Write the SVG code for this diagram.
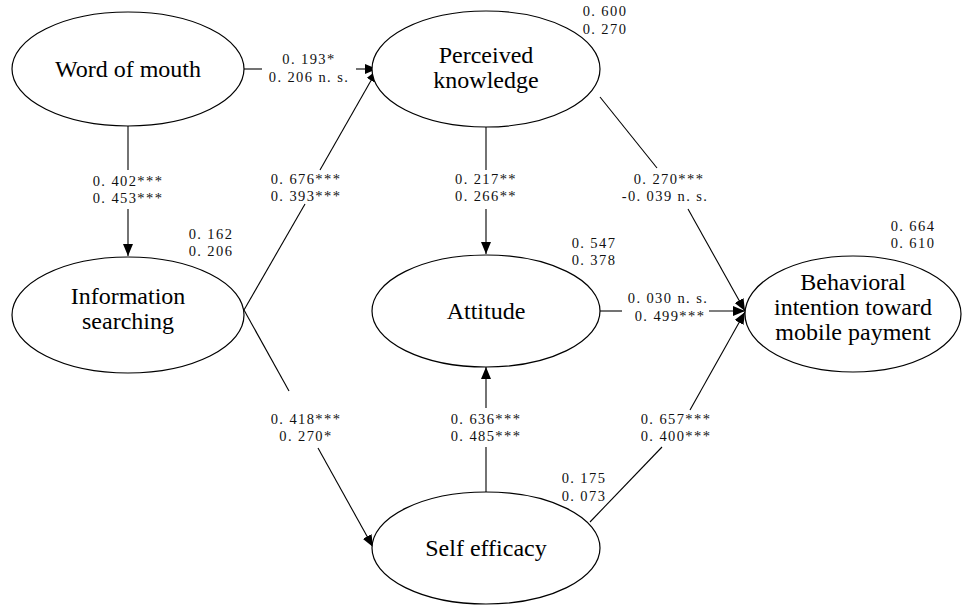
<svg xmlns="http://www.w3.org/2000/svg" width="966" height="607" viewBox="0 0 966 607">
<style>
.node ellipse{fill:#fff;stroke:#000;stroke-width:1.2}
.lbl{font-size:24px;fill:#000;text-anchor:middle}
.num{font-size:14.5px;letter-spacing:1.4px;fill:#111;text-anchor:middle}
.conn line{stroke:#000;stroke-width:1.1}
</style>
<defs>
<marker id="ah" viewBox="0 0 12 10" refX="12" refY="5" markerWidth="12" markerHeight="10" markerUnits="userSpaceOnUse" orient="auto">
<path d="M0,0 L12,5 L0,10 Z" fill="#000"/>
</marker>
</defs>
<rect width="966" height="607" fill="#fff"/>
<g class="conn" id="connectors" font-family="Liberation Serif, Times New Roman, serif">
<line x1="244" y1="69" x2="262" y2="69"/>
<line x1="356" y1="69" x2="377" y2="69" marker-end="url(#ah)"/>
<line x1="128" y1="126" x2="128" y2="170"/>
<line x1="128" y1="209" x2="128" y2="256" marker-end="url(#ah)"/>
<line x1="244" y1="310" x2="305" y2="204"/>
<line x1="320" y1="170" x2="377" y2="70" marker-end="url(#ah)"/>
<line x1="486" y1="127" x2="486" y2="170"/>
<line x1="486" y1="209" x2="486" y2="254" marker-end="url(#ah)"/>
<line x1="244" y1="310" x2="289" y2="391"/>
<line x1="318" y1="448" x2="373" y2="547" marker-end="url(#ah)"/>
<line x1="600" y1="97" x2="657" y2="168"/>
<line x1="688" y1="209" x2="745" y2="311" marker-end="url(#ah)"/>
<line x1="600" y1="311" x2="622" y2="311"/>
<line x1="709" y1="311" x2="745" y2="311" marker-end="url(#ah)"/>
<line x1="486" y1="492" x2="486" y2="447"/>
<line x1="486" y1="408" x2="486" y2="367" marker-end="url(#ah)"/>
<line x1="590" y1="522" x2="662" y2="447"/>
<line x1="690" y1="410" x2="745" y2="312" marker-end="url(#ah)"/>
<text class="num" x="309" y="64">0. 193*</text>
<text class="num" x="309" y="82">0. 206 n. s.</text>
<text class="num" x="128" y="186">0. 402***</text>
<text class="num" x="128" y="203">0. 453***</text>
<text class="num" x="306" y="184">0. 676***</text>
<text class="num" x="306" y="201">0. 393***</text>
<text class="num" x="486" y="184">0. 217**</text>
<text class="num" x="486" y="201">0. 266**</text>
<text class="num" x="669" y="184">0. 270***</text>
<text class="num" x="665" y="201">-0. 039 n. s.</text>
<text class="num" x="668" y="303">0. 030 n. s.</text>
<text class="num" x="670" y="321">0. 499***</text>
<text class="num" x="306" y="424">0. 418***</text>
<text class="num" x="306" y="441">0. 270*</text>
<text class="num" x="486" y="424">0. 636***</text>
<text class="num" x="486" y="441">0. 485***</text>
<text class="num" x="676" y="424">0. 657***</text>
<text class="num" x="676" y="441">0. 400***</text>
<text class="num" x="605" y="16">0. 600</text>
<text class="num" x="605" y="34">0. 270</text>
<text class="num" x="211" y="239">0. 162</text>
<text class="num" x="211" y="256">0. 206</text>
<text class="num" x="594" y="248">0. 547</text>
<text class="num" x="594" y="265">0. 378</text>
<text class="num" x="913" y="231">0. 664</text>
<text class="num" x="913" y="248">0. 610</text>
<text class="num" x="584" y="483">0. 175</text>
<text class="num" x="584" y="501">0. 073</text>
</g>
<g font-family="Liberation Serif, Times New Roman, serif">
<g class="node" id="word-of-mouth">
<ellipse cx="128" cy="69" rx="116" ry="57"/>
<text class="lbl" x="128" y="77">Word of mouth</text>
</g>
<g class="node" id="perceived-knowledge">
<ellipse cx="486" cy="69" rx="114" ry="58"/>
<text class="lbl" x="486" y="63">Perceived</text>
<text class="lbl" x="486" y="88">knowledge</text>
</g>
<g class="node" id="information-searching">
<ellipse cx="128" cy="315" rx="116" ry="58"/>
<text class="lbl" x="128" y="304">Information</text>
<text class="lbl" x="128" y="329">searching</text>
</g>
<g class="node" id="attitude">
<ellipse cx="486" cy="311" rx="114" ry="56"/>
<text class="lbl" x="486" y="319">Attitude</text>
</g>
<g class="node" id="behavioral-intention">
<ellipse cx="853" cy="314" rx="108" ry="58"/>
<text class="lbl" x="853" y="290">Behavioral</text>
<text class="lbl" x="853" y="315">intention toward</text>
<text class="lbl" x="853" y="340">mobile payment</text>
</g>
<g class="node" id="self-efficacy">
<ellipse cx="486" cy="548" rx="114" ry="56"/>
<text class="lbl" x="486" y="556">Self efficacy</text>
</g>
</g>
</svg>
